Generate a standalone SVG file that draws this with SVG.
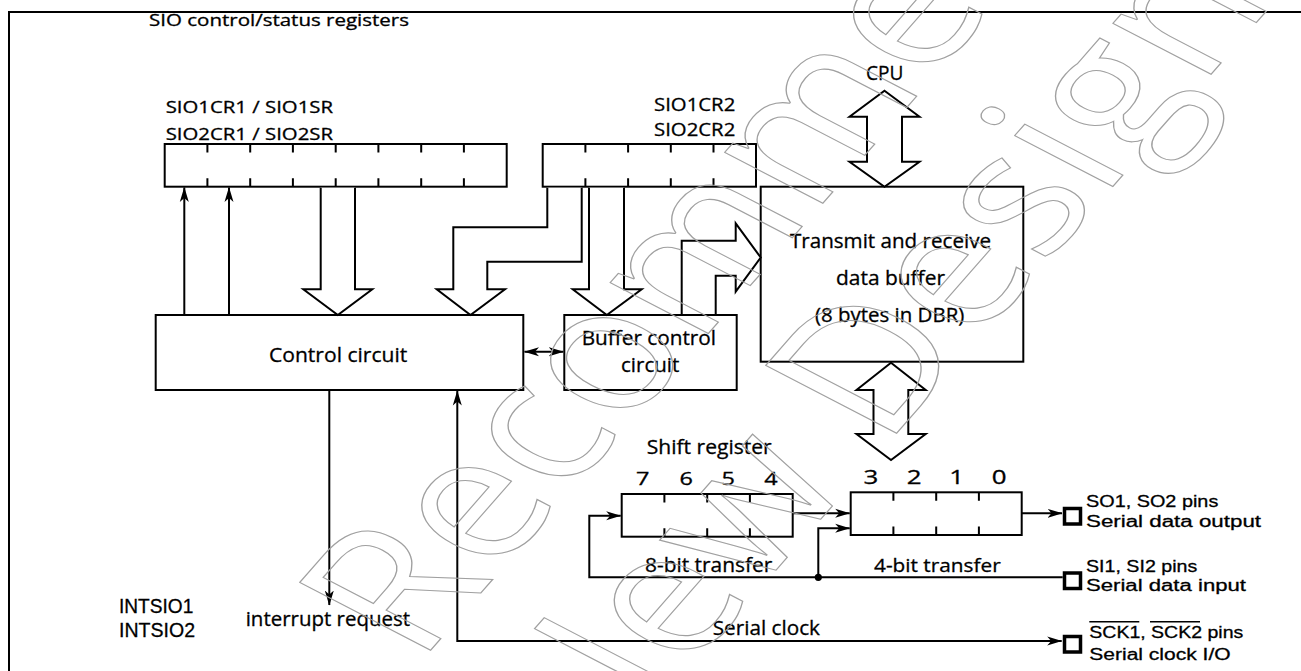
<svg xmlns="http://www.w3.org/2000/svg" width="1301" height="671" viewBox="0 0 1301 671">
<style>
.ln{fill:none;stroke:#000;stroke-width:2}
.bx{fill:#fff;stroke:#000;stroke-width:2}
.hol{fill:#fff;stroke:#000;stroke-width:2;stroke-linejoin:miter}
.pin{fill:#fff;stroke:#000;stroke-width:3.5}
text{font-family:"Open Sans","Liberation Sans",sans-serif;fill:#000;stroke:#000;stroke-width:0.3}
.ls{font-family:"Liberation Sans",Arial,sans-serif}
.wm{font-family:"Open Sans","Liberation Sans",sans-serif;font-weight:400;font-size:170px;fill:none;stroke:#a0a0a0;stroke-width:1.2}
</style>
<defs>
<marker id="ah" viewBox="0 0 15 10" refX="14.5" refY="5" markerWidth="15" markerHeight="10" markerUnits="userSpaceOnUse" orient="auto-start-reverse">
<path d="M0,0.5 L15,5 L0,9.5 L4,5 z" fill="#000"/>
</marker>
</defs>
<rect width="1301" height="671" fill="#fff"/>
<g id="frame">
<path class="ln" d="M9,671 V12 H1301"/>
<text x="149" y="26" font-size="16" textLength="260" lengthAdjust="spacingAndGlyphs">SIO control/status registers</text>
</g>
<g id="reg1">
<text x="165.7" y="113.3" font-size="17" textLength="167.3" lengthAdjust="spacingAndGlyphs">SIO1CR1 / SIO1SR</text>
<text x="165.7" y="140" font-size="17" textLength="167.3" lengthAdjust="spacingAndGlyphs">SIO2CR1 / SIO2SR</text>
<rect class="bx" x="164.7" y="144" width="342" height="42.7"/>
<path class="ln" d="M207.4,144v8.5M250.2,144v8.5M292.9,144v8.5M335.7,144v8.5M378.4,144v8.5M421.2,144v8.5M463.9,144v8.5M207.4,186.7v-8.5M250.2,186.7v-8.5M292.9,186.7v-8.5M335.7,186.7v-8.5M378.4,186.7v-8.5M421.2,186.7v-8.5M463.9,186.7v-8.5"/>
</g>
<g id="reg2">
<text x="654" y="110.7" font-size="19" textLength="81.3" lengthAdjust="spacingAndGlyphs">SIO1CR2</text>
<text x="654" y="135.7" font-size="19" textLength="81.3" lengthAdjust="spacingAndGlyphs">SIO2CR2</text>
<rect class="bx" x="542.7" y="144" width="213.3" height="42.7"/>
<path class="ln" d="M585.4,144v8.5M628.1,144v8.5M670.8,144v8.5M713.5,144v8.5M585.4,186.7v-8.5M628.1,186.7v-8.5M670.8,186.7v-8.5M713.5,186.7v-8.5"/>
</g>
<g id="cpu">
<text x="866" y="80" font-size="20" textLength="37.3" lengthAdjust="spacingAndGlyphs">CPU</text>
</g>
<g id="dbr">
<rect class="bx" x="760.7" y="186.7" width="262.6" height="175"/>
<text x="790" y="248.3" font-size="20" textLength="201" lengthAdjust="spacingAndGlyphs">Transmit and receive</text>
<text x="836" y="285" font-size="20" textLength="109" lengthAdjust="spacingAndGlyphs">data buffer</text>
<text x="815" y="321.7" font-size="20" textLength="149.3" lengthAdjust="spacingAndGlyphs">(8 bytes in DBR)</text>
</g>
<g id="control">
<rect class="bx" x="155.7" y="315" width="367.6" height="75"/>
<text x="269" y="361.7" font-size="20" textLength="138.3" lengthAdjust="spacingAndGlyphs">Control circuit</text>
</g>
<g id="bufctl">
<rect class="bx" x="564.3" y="315" width="172.4" height="75"/>
<text x="581.7" y="345" font-size="20" textLength="134.3" lengthAdjust="spacingAndGlyphs">Buffer control</text>
<text x="621" y="371.7" font-size="20" textLength="58.3" lengthAdjust="spacingAndGlyphs">circuit</text>
</g>
<g id="shiftreg">
<text x="646.7" y="454" font-size="20" textLength="125" lengthAdjust="spacingAndGlyphs">Shift register</text>
<g font-size="18">
<text x="636.1" y="485" textLength="13.4" lengthAdjust="spacingAndGlyphs">7</text><text x="679.5" y="485" textLength="13.4" lengthAdjust="spacingAndGlyphs">6</text><text x="721.6" y="485" textLength="13.4" lengthAdjust="spacingAndGlyphs">5</text><text x="764.2" y="485" textLength="13.4" lengthAdjust="spacingAndGlyphs">4</text>
</g>
<g font-size="20">
<text x="863.4" y="484" textLength="14.8" lengthAdjust="spacingAndGlyphs">3</text><text x="906.8" y="484" textLength="14.8" lengthAdjust="spacingAndGlyphs">2</text><text x="949.3" y="484" textLength="14.8" lengthAdjust="spacingAndGlyphs">1</text><text x="991.8" y="484" textLength="14.8" lengthAdjust="spacingAndGlyphs">0</text>
</g>
<rect class="bx" x="621.7" y="494" width="171" height="42.7"/>
<path class="ln" d="M664.4,494v8.5M707.2,494v8.5M749.9,494v8.5M664.4,536.7v-8.5M707.2,536.7v-8.5M749.9,536.7v-8.5"/>
<rect class="bx" x="850.7" y="492.3" width="171" height="42.7"/>
<path class="ln" d="M893.4,492.3v8.5M936.2,492.3v8.5M978.9,492.3v8.5M893.4,535v-8.5M936.2,535v-8.5M978.9,535v-8.5"/>
<text x="645" y="571.7" font-size="20" textLength="127.3" lengthAdjust="spacingAndGlyphs">8-bit transfer</text>
<text x="874" y="571.7" font-size="19" textLength="126.7" lengthAdjust="spacingAndGlyphs">4-bit transfer</text>
</g>
<g id="pin-so">
<rect class="pin" x="1064.5" y="508.5" width="16" height="15.5"/>
<text class="ls" x="1086" y="507.3" font-size="17.3" textLength="132.3" lengthAdjust="spacingAndGlyphs">SO1, SO2 pins</text>
<text class="ls" x="1086" y="526.7" font-size="17.3" textLength="175" lengthAdjust="spacingAndGlyphs">Serial data output</text>
</g>
<g id="pin-si">
<rect class="pin" x="1064.5" y="573" width="16" height="15.5"/>
<text class="ls" x="1086" y="571.7" font-size="17.3" textLength="111.3" lengthAdjust="spacingAndGlyphs">SI1, SI2 pins</text>
<text class="ls" x="1086" y="590.7" font-size="17.3" textLength="160" lengthAdjust="spacingAndGlyphs">Serial data input</text>
</g>
<g id="pin-sck">
<rect class="pin" x="1064.5" y="636.5" width="16" height="15.5"/>
<text class="ls" x="1089.3" y="638.3" font-size="17.3" textLength="154" lengthAdjust="spacingAndGlyphs">SCK1, SCK2 pins</text>
<path d="M1089.3,621.7H1139.3M1150,621.7H1200" stroke="#000" stroke-width="1.5"/>
<text class="ls" x="1089.3" y="660" font-size="17.3" textLength="141.3" lengthAdjust="spacingAndGlyphs">Serial clock I/O</text>
</g>
<g id="interrupt">
<text class="ls" x="119" y="612.7" font-size="21" textLength="74.3" lengthAdjust="spacingAndGlyphs">INTSIO1</text>
<text class="ls" x="119" y="637.3" font-size="21" textLength="76" lengthAdjust="spacingAndGlyphs">INTSIO2</text>
<text x="245.7" y="626" font-size="20" textLength="164.3" lengthAdjust="spacingAndGlyphs">interrupt request</text>
</g>
<g id="connectors">
<path class="ln" d="M184.3,315V187.5" marker-end="url(#ah)"/>
<path class="ln" d="M229,315V187.5" marker-end="url(#ah)"/>
<path class="hol" d="M320.7,187.7V289.3H303.3L337.8,315L372.3,289.3H355V187.7"/>
<path class="hol" d="M547.3,187.7V227.3H453.3V289.3H436.7L470.5,315L505,289.3H487.3V261.7H581.7V187.7"/>
<path class="hol" d="M589,187.7V289.3H572.7L606.8,315L641.7,289.3H624V187.7"/>
<path class="hol" d="M681.7,314V240.7H735.7V223.3L760.7,257.5L735.7,291.7V275.7H715.7V314"/>
<path class="hol" d="M884.5,90.7L919.5,116.7H902V161.7H919.5L884.5,186.7L849.5,161.7H867V116.7H849.5Z"/>
<path class="hol" d="M891,362.7L925.7,390H908.3V434H925.7L891,460L856.5,434H873.5V390H856.5Z"/>
<path class="ln" d="M524.5,351.7H563.3" marker-start="url(#ah)" marker-end="url(#ah)"/>
<path class="ln" d="M329.3,391V605" marker-end="url(#ah)"/>
<path class="ln" d="M1061.7,641H457.3V391" marker-start="url(#ah)" marker-end="url(#ah)"/>
<text x="712.7" y="635" font-size="20" textLength="107.3" lengthAdjust="spacingAndGlyphs">Serial clock</text>
<path class="ln" d="M792.7,513.3H849.7" marker-end="url(#ah)"/>
<path class="ln" d="M818.3,577.3V528.3H849.7" marker-end="url(#ah)"/>
<path class="ln" d="M1062.7,577.3H589.3V515.7H620.7" marker-end="url(#ah)"/>
<circle cx="818.3" cy="577.3" r="3.6" fill="#000"/>
<path class="ln" d="M1021.7,513.3H1062" marker-end="url(#ah)"/>
</g>
<g id="watermark" transform="scale(1.3,1)">
<text class="wm" transform="translate(322,664) rotate(-56)" vector-effect="non-scaling-stroke">Recommended</text>
<text class="wm" transform="translate(457,778) rotate(-56)" vector-effect="non-scaling-stroke">New Design</text>
</g>
</svg>
